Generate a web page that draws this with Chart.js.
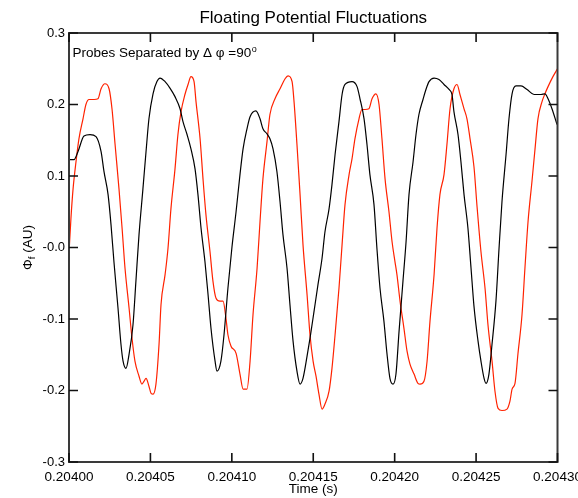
<!DOCTYPE html>
<html><head><meta charset="utf-8">
<script src="https://cdn.jsdelivr.net/npm/chart.js@4/dist/chart.umd.min.js"></script>
<style>html,body{margin:0;padding:0;background:#fff}#wrap{width:578px;height:498px;position:relative}</style>
</head><body><div id="wrap"><canvas id="c" width="578" height="498"></canvas></div>
<script>
const T0 = 0.204; // seconds
const blackTimeUs = [0,3.1,5.5,9.2,12.9,16.6,19.7,21.5,24.0,25.8,27.6,30.1,31.9,33.2,35.0,36.9,39.3,41.1,43.0,45.4,47.3,49.1,51.6,54.0,55.9,59.0,62.0,65.1,68.2,70.0,72.5,74.9,77.4,79.2,81.1,83.5,85.4,87.2,89.7,90.9,93.3,95.2,97.6,100.1,102.6,105.0,106.9,109.3,111.2,114.8,117.3,119.1,121.6,123.4,125.3,127.7,129.6,131.4,133.9,135.7,137.6,140.0,141.9,143.7,146.2,148.0,150.5,152.9,155.4,157.2,159.7,161.5,163.4,165.8,167.7,169.5,173.8,176.9,178.7,181.2,183.0,184.8,187.3,189.1,191.0,193.4,195.3,197.1,199.0,200.8,202.7,205.1,207.0,208.8,211.3,213.1,214.9,217.4,219.2,221.1,224.2,227.2,230.3,233.4,235.2,236.4,238.9,240.7,242.6,245.0,246.9,248.7,251.2,253.0,254.9,256.1,257.9,259.8,262.2,264.1,265.9,268.4,270.2,272.1,274.5,277.6,281.3,285.6,289.9,292.3,294.2,296.6,299.7];
const blackValues = [0.123,0.123,0.134,0.156,0.158,0.155,0.134,0.106,0.074,0.032,-0.020,-0.085,-0.135,-0.159,-0.169,-0.149,-0.108,-0.047,0.018,0.082,0.134,0.180,0.215,0.232,0.237,0.232,0.223,0.211,0.194,0.176,0.158,0.138,0.110,0.074,0.027,-0.020,-0.066,-0.113,-0.159,-0.173,-0.159,-0.122,-0.057,0.001,0.050,0.102,0.138,0.166,0.183,0.191,0.180,0.166,0.159,0.152,0.138,0.106,0.064,0.018,-0.029,-0.080,-0.131,-0.173,-0.191,-0.183,-0.152,-0.127,-0.089,-0.052,-0.015,0.022,0.054,0.088,0.130,0.176,0.214,0.228,0.232,0.225,0.208,0.180,0.144,0.102,0.060,-0.001,-0.057,-0.103,-0.149,-0.183,-0.191,-0.177,-0.117,-0.047,0.008,0.074,0.120,0.158,0.186,0.207,0.221,0.232,0.237,0.235,0.228,0.221,0.214,0.190,0.158,0.120,0.074,0.027,-0.029,-0.082,-0.131,-0.159,-0.183,-0.190,-0.177,-0.135,-0.075,-0.001,0.064,0.130,0.180,0.215,0.226,0.226,0.221,0.214,0.214,0.215,0.208,0.194,0.172];
const redTimeUs = [0,1.2,2.5,4.3,6.1,8.6,10.4,12.3,15.4,17.8,19.7,22.1,24.6,26.4,28.3,30.7,32.6,34.4,36.9,38.7,40.5,43.0,44.8,46.1,47.3,49.1,50.4,51.6,53.4,55.3,56.5,59.0,60.8,62.6,65.1,66.9,68.8,71.2,73.1,74.9,76.8,78.0,80.5,82.3,84.1,86.6,88.4,90.3,92.7,94.6,96.4,97.6,99.5,102.6,105.0,106.9,109.3,111.2,113.0,115.5,117.3,119.1,121.6,123.4,126.5,129.6,132.7,134.5,137.0,138.2,140.0,141.9,143.7,146.2,148.0,149.9,151.7,153.5,155.4,157.2,159.7,161.5,163.4,165.8,167.7,169.5,172.0,173.8,175.6,178.1,179.9,181.8,184.2,186.1,188.5,190.4,192.2,194.1,196.5,198.4,200.2,201.4,203.3,205.7,207.6,209.4,211.9,214.3,215.6,218.0,219.9,221.7,224.2,226.0,227.8,230.3,232.1,234.0,236.4,238.3,240.1,242.6,244.4,246.3,248.7,250.6,253.0,255.5,257.3,259.8,261.6,263.5,265.9,269.0,270.8,272.1,273.9,275.7,278.2,280.0,281.9,284.3,286.2,288.0,290.5,292.3,294.2,297.2,300.0];
const redValues = [-0.008,0.041,0.082,0.120,0.152,0.180,0.200,0.207,0.207,0.208,0.222,0.229,0.222,0.194,0.144,0.082,0.027,-0.029,-0.085,-0.127,-0.159,-0.180,-0.191,-0.187,-0.183,-0.194,-0.204,-0.205,-0.191,-0.135,-0.080,-0.038,-0.001,0.054,0.110,0.158,0.190,0.214,0.228,0.239,0.232,0.204,0.152,0.096,0.046,-0.006,-0.047,-0.071,-0.075,-0.075,-0.099,-0.122,-0.138,-0.148,-0.177,-0.198,-0.198,-0.159,-0.094,-0.029,0.036,0.096,0.148,0.186,0.208,0.222,0.236,0.240,0.232,0.204,0.144,0.074,0.004,-0.066,-0.122,-0.159,-0.180,-0.205,-0.226,-0.219,-0.201,-0.169,-0.122,-0.057,0.004,0.060,0.102,0.124,0.152,0.180,0.193,0.193,0.194,0.208,0.215,0.200,0.152,0.096,0.050,0.008,-0.020,-0.038,-0.075,-0.113,-0.145,-0.163,-0.177,-0.190,-0.191,-0.187,-0.159,-0.103,-0.038,0.027,0.074,0.102,0.144,0.194,0.222,0.228,0.214,0.194,0.180,0.152,0.113,0.057,-0.006,-0.057,-0.108,-0.159,-0.201,-0.225,-0.228,-0.226,-0.215,-0.198,-0.190,-0.149,-0.094,-0.029,0.036,0.092,0.138,0.180,0.204,0.215,0.225,0.239,0.250];
const xTickUs = [0,50,100,150,200,250,300];
const xTickLabels = ['0.20400','0.20405','0.20410','0.20415','0.20420','0.20425','0.20430'];
const yTickValues = [-0.3,-0.2,-0.1,0,0.1,0.2,0.3];
const yTickLabels = ['-0.3','-0.2','-0.1','-0.0','0.1','0.2','0.3'];

const FONT = "'Liberation Sans', Arial, Helvetica, sans-serif";
const toPts = (ts, vs) => ts.map((u, i) => ({x: T0 + u * 1e-6, y: vs[i]}));

const idlFrame = {
  id: 'idlFrame',
  afterDraw(chart) {
    const {ctx, chartArea: a, scales} = chart;
    const xs = scales.x, ys = scales.y;
    ctx.save();
    ctx.strokeStyle = '#3a3a3a';
    ctx.lineWidth = 2;
    ctx.strokeRect(a.left, a.top, a.right - a.left, a.bottom - a.top);
    ctx.strokeStyle = '#111';
    ctx.lineWidth = 1.6;
    const L = 9;
    ctx.beginPath();
    xs.ticks.forEach(t => {
      const px = xs.getPixelForValue(t.value);
      ctx.moveTo(px, a.bottom); ctx.lineTo(px, a.bottom - L);
      ctx.moveTo(px, a.top); ctx.lineTo(px, a.top + L);
    });
    ys.ticks.forEach(t => {
      const py = ys.getPixelForValue(t.value);
      ctx.moveTo(a.left, py); ctx.lineTo(a.left + L, py);
      ctx.moveTo(a.right, py); ctx.lineTo(a.right - L, py);
    });
    ctx.stroke();
    // annotation
    ctx.fillStyle = '#000';
    ctx.textBaseline = 'alphabetic';
    ctx.textAlign = 'left';
    ctx.font = '13.5px ' + FONT;
    const ann = 'Probes Separated by \u0394 \u03c6 =90';
    const ax = a.left + 3.5, ay = a.top + 24;
    ctx.fillText(ann, ax, ay);
    const aw = ctx.measureText(ann).width;
    ctx.font = '9px ' + FONT;
    ctx.fillText('o', ax + aw + 0.5, ay - 5.5);
    // y title with subscript
    ctx.translate(31.5, (a.top + a.bottom) / 2);
    ctx.rotate(-Math.PI / 2);
    ctx.font = '13.5px ' + FONT;
    const w1 = ctx.measureText('\u03a6').width;
    const w3 = ctx.measureText(' (AU)').width;
    ctx.font = '9.5px ' + FONT;
    const w2 = ctx.measureText('f').width;
    let sx = -(w1 + w2 + w3) / 2;
    ctx.font = '13.5px ' + FONT;
    ctx.fillText('\u03a6', sx, 0);
    ctx.font = '9.5px ' + FONT;
    ctx.fillText('f', sx + w1, 3);
    ctx.font = '13.5px ' + FONT;
    ctx.fillText(' (AU)', sx + w1 + w2, 0);
    ctx.restore();
  }
};

new Chart(document.getElementById('c'), {
  type: 'line',
  data: {
    datasets: [
      {label: 'Probe 1', data: toPts(blackTimeUs, blackValues), borderColor: '#000', borderWidth: 1.2, pointRadius: 0, cubicInterpolationMode: 'monotone', fill: false},
      {label: 'Probe 2', data: toPts(redTimeUs, redValues), borderColor: '#ff2200', borderWidth: 1.2, pointRadius: 0, cubicInterpolationMode: 'monotone', fill: false}
    ]
  },
  options: {
    responsive: false,
    animation: false,
    devicePixelRatio: 1,
    layout: {padding: {left: 0, right: 20.5, top: 0, bottom: 0}, autoPadding: false},
    font: {family: FONT},
    plugins: {
      legend: {display: false},
      tooltip: {enabled: false},
      title: {display: true, fullSize: false, text: 'Floating Potential Fluctuations', color: '#000', font: {family: FONT, size: 17, weight: 'normal'}, padding: {top: 8.5, bottom: 4.1}}
    },
    scales: {
      x: {
        type: 'linear', position: 'bottom', min: T0, max: T0 + 300e-6,
        afterBuildTicks: s => { s.ticks = xTickUs.map(u => ({value: T0 + u * 1e-6})); },
        afterFit: s => { s.height = 36; s.paddingLeft = 0; s.paddingRight = 0; },
        grid: {display: false, drawTicks: false},
        border: {display: false},
        ticks: {color: '#000', font: {family: FONT, size: 13.5}, padding: 7, maxRotation: 0, autoSkip: false, callback: (v, i) => xTickLabels[i]},
        title: {display: true, text: 'Time (s)', color: '#000', font: {family: FONT, size: 13.5}, padding: {top: 0, bottom: 1}}
      },
      y: {
        type: 'linear', min: -0.3, max: 0.3,
        afterBuildTicks: s => { s.ticks = yTickValues.map(v => ({value: v})); },
        afterFit: s => { s.width = 69; s.paddingTop = 0; s.paddingBottom = 0; },
        grid: {display: false, drawTicks: false},
        border: {display: false},
        ticks: {color: '#000', font: {family: FONT, size: 13}, padding: 4, autoSkip: false, callback: (v, i) => yTickLabels[i]}
      }
    }
  },
  plugins: [idlFrame]
});
</script></body></html>
